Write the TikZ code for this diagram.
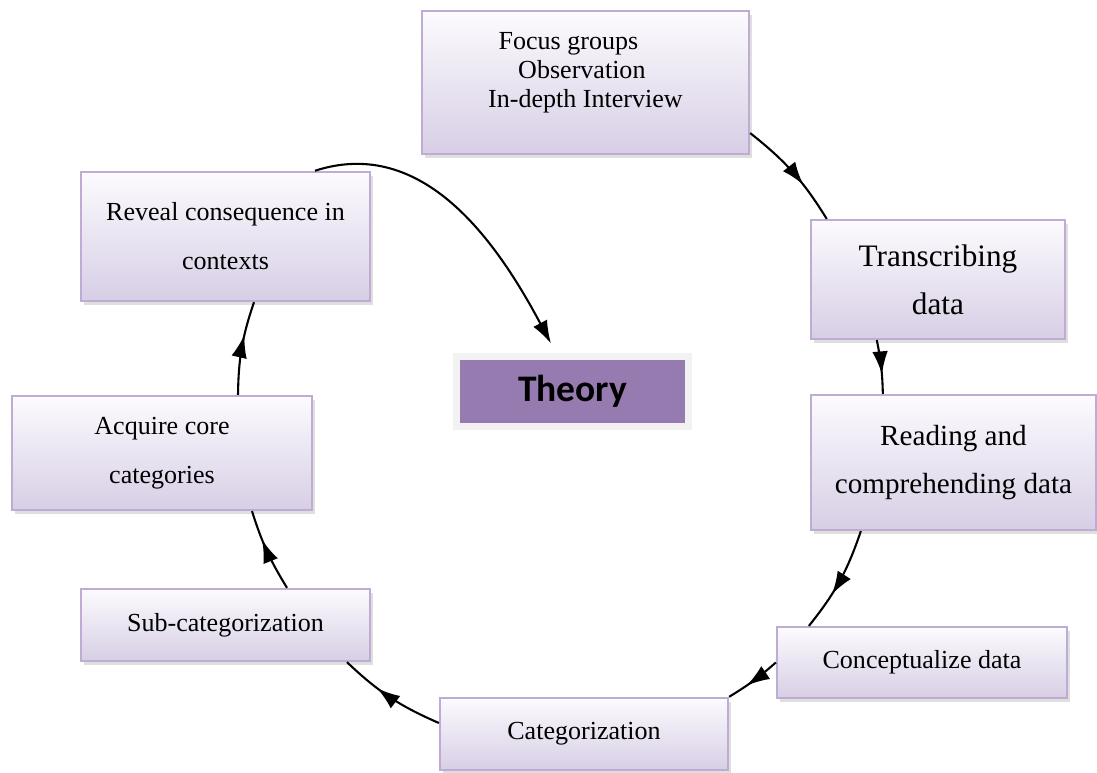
\documentclass[tikz,border=0pt]{standalone}
\usepackage{fontspec}
\setmainfont{Liberation Serif}
\newfontfamily\theoryfont{Carlito}
\usetikzlibrary{arrows.meta,calc,shadows,decorations.markings}

\definecolor{boxline}{RGB}{190,172,213}
\definecolor{boxtop}{RGB}{252,251,254}
\definecolor{boxbottom}{RGB}{215,206,229}
\definecolor{theorypurple}{RGB}{150,123,176}
\definecolor{theoryframe}{RGB}{242,242,242}

\tikzset{
    stagebox/.style={draw=boxline, line width=1.1pt, top color=boxtop, bottom color=boxbottom,
        drop shadow={shadow xshift=1.5pt, shadow yshift=-2pt, opacity=0.25},
        align=center, inner sep=0pt, font=\fontsize{12.5}{23.5}\selectfont},
    theorybox/.style={draw=theoryframe, line width=3.4pt, fill=theorypurple,
        minimum width=111pt, minimum height=34pt,
        font=\theoryfont\bfseries\fontsize{18}{20}\selectfont},
    tip/.tip={Latex[length=11pt,width=7.5pt]},
    cyclearc/.style={line width=1pt, postaction={decorate}, decoration={markings,
        mark=at position 0.64 with {\arrow{tip}}}}
}

\begin{document}
\begin{tikzpicture}[x=0.48pt, y=0.48pt]
    \useasboundingbox (0,0) rectangle (1097,773);

    % stages of the cycle
    \node[stagebox, minimum width=157pt, minimum height=68.6pt, align=left,
        font=\fontsize{12.5}{14}\selectfont] (focus) at (585.5,690.5)
        {\hspace*{5pt}Focus groups\\ \hspace*{14.4pt}Observation\\ In-depth Interview\\[-2pt]\mbox{}};
    \node[stagebox, minimum width=122pt, minimum height=57pt,
        font=\fontsize{15}{23}\selectfont] (trans) at (938,493.5) {Transcribing\\ data};
    \node[stagebox, minimum width=136.8pt, minimum height=64.8pt,
        font=\fontsize{14}{22.6}\selectfont] (read) at (953.5,310.5) {Reading and\\ comprehending data};
    \node[stagebox, minimum width=139.2pt, minimum height=34pt] (conc) at (922,110.5) {Conceptualize data};
    \node[stagebox, minimum width=138.2pt, minimum height=34.6pt] (cat) at (584,39) {Categorization};
    \node[stagebox, minimum width=138.7pt, minimum height=34.6pt] (sub) at (225.5,148) {Sub-categorization};
    \node[stagebox, minimum width=144pt, minimum height=54.7pt] (acq) at (162,320) {Acquire core\\ categories};
    \node[stagebox, minimum width=138.7pt, minimum height=62pt] (rev) at (225.5,536.5) {Reveal consequence in\\ contexts};

    \node[theorybox] (theory) at (572.5,381.5) {Theory};

    % end points of the arcs
    \coordinate (s1) at ($(focus.south east)+(0,22)$);
    \coordinate (e1) at ($(trans.north west)+(17,0)$);
    \coordinate (s2) at ($(trans.south west)+(67,0)$);
    \coordinate (e2) at ($(read.north west)+(73,0)$);
    \coordinate (s3) at ($(read.south west)+(51,0)$);
    \coordinate (e3) at ($(conc.north west)+(33,0)$);
    \coordinate (s4) at (conc.west);
    \coordinate (e4) at (cat.north east);
    \coordinate (s5) at ($(cat.west)+(0,11)$);
    \coordinate (e5) at ($(sub.south)+(121.5,0)$);
    \coordinate (s6) at ($(sub.north)+(61.5,0)$);
    \coordinate (e6) at ($(acq.south)+(90,0)$);
    \coordinate (s7) at ($(acq.north)+(76,0)$);
    \coordinate (e7) at ($(rev.south)+(28.5,0)$);
    \coordinate (s8) at ($(rev.north)+(89.5,0)$);
    \coordinate (e8) at ($(theory.north)+(-21.5,9)$);

    \foreach \src/\dst/\bend in {s1/e1/10, s2/e2/5, s3/e3/10, s4/e4/5, s5/e5/10, s6/e6/7, s7/e7/9}
    {\draw[cyclearc] (\src) to[bend left=\bend] (\dst);}

    \draw[line width=1pt, -tip] (s8) to[out=18, in=118] (e8);

\end{tikzpicture}
\end{document}
